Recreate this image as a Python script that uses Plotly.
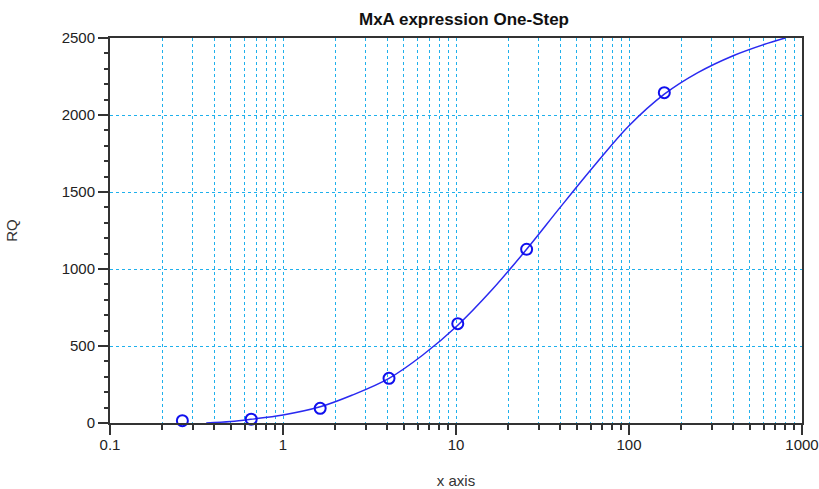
import plotly.graph_objects as go

# Measured points (dilution series)
conc = [0.262, 0.655, 1.64, 4.1, 10.24, 25.6, 160]
rq = [15, 25, 95, 290, 645, 1128, 2145]

# Fitted curve
curve_x = [0.36, 0.5, 0.65, 1.0, 1.64, 2.5, 4.1, 6.4, 10.24, 16, 25.6, 40, 64,
           100, 160, 250, 400, 630, 800]
curve_y = [0, 10, 24, 52, 105, 180, 290, 440, 635, 860, 1128, 1400, 1680,
           1930, 2135, 2275, 2385, 2465, 2500]

major_x = [0.1, 1, 10, 100, 1000]
major_labels = ["0.1", "1", "10", "100", "1000"]
minor_x = [m * 10 ** k for k in range(-1, 3) for m in range(2, 10)]

title = "MxA expression One-Step"
grid_col = "#1fb0ec"
axis_col = "#333333"
font = "Liberation Sans, Arial, sans-serif"

fig = go.Figure()
fig.add_trace(go.Scatter(x=curve_x, y=curve_y, mode="lines",
                         line=dict(color="#2a2af0", width=1.5, shape="spline", smoothing=1),
                         showlegend=False))
fig.add_trace(go.Scatter(x=conc, y=rq, mode="markers", cliponaxis=False,
                         marker=dict(symbol="circle-open", size=11, color="#1010ee",
                                     line=dict(width=2, color="#1010ee")),
                         showlegend=False))

fig.update_layout(
    width=819, height=489,
    margin=dict(l=110, r=17, t=38, b=66),
    paper_bgcolor="white", plot_bgcolor="white",
    font=dict(family=font, color="#222222"),
    title=dict(text="<b>" + title + "</b>", x=464 / 819, xanchor="center",
               y=1 - 19 / 489, yanchor="middle",
               font=dict(size=17, color="#111111", family=font)),
)

fig.update_xaxes(
    type="log", range=[-1, 3], automargin=False,
    tickmode="array", tickvals=major_x, ticktext=major_labels,
    ticks="outside", ticklen=10, tickwidth=1.5, tickcolor=axis_col,
    tickfont=dict(size=15, color="#222222"), ticklabelstandoff=-3,
    showline=True, linecolor=axis_col, linewidth=2, mirror=True,
    showgrid=True, gridcolor=grid_col, griddash="dot", gridwidth=1,
    minor=dict(tickmode="array", tickvals=minor_x, ticks="outside", ticklen=5,
               tickwidth=1.5, tickcolor=axis_col, showgrid=True,
               gridcolor=grid_col, griddash="dot", gridwidth=1),
    title=dict(text="x axis", font=dict(size=15, color="#333333"), standoff=33),
    zeroline=False,
)

fig.update_yaxes(
    range=[0, 2500], automargin=False, tickmode="linear", tick0=0, dtick=500,
    ticks="outside", ticklen=10, tickwidth=1.5, tickcolor=axis_col,
    tickfont=dict(size=15, color="#222222"),
    showline=True, linecolor=axis_col, linewidth=2, mirror=True,
    showgrid=True, gridcolor=grid_col, griddash="dot", gridwidth=1,
    minor=dict(dtick=100, ticks="outside", ticklen=4, tickwidth=1.5,
               tickcolor=axis_col, showgrid=False),
    title=dict(text="RQ", font=dict(size=15, color="#333333"), standoff=40),
    zeroline=False,
)

fig.write_html("out.html")
